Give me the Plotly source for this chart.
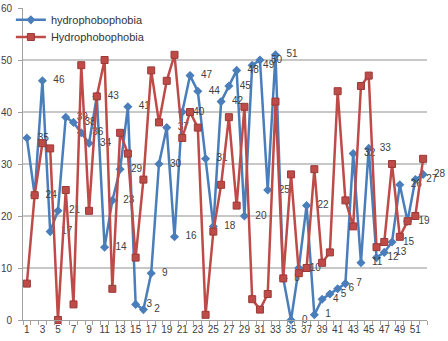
import plotly.graph_objects as go

categories = list(range(1, 53))
blue_values = [35, 24, 46, 17, 21, 39, 38, 36, 34, 43, 14, 23, 29, 41, 3, 2, 9, 30, 37, 16,
               40, 47, 44, 31, 18, 42, 45, 48, 20, 49, 50, 25, 51, 8, 0, 10, 22, 1, 4, 5,
               6, 7, 32, 11, 33, 12, 13, 15, 26, 19, 27, 28]
red_values = [7, 24, 34, 33, 0, 25, 3, 49, 21, 43, 50, 6, 36, 32, 12, 27, 48, 38, 46, 51,
              35, 40, 37, 1, 17, 26, 39, 22, 41, 4, 2, 5, 42, 8, 28, 9, 10, 29, 11, 13,
              44, 23, 18, 45, 47, 14, 15, 30, 16, 19, 20, 31]
x_tick_labels = [str(v) for v in range(1, 52, 2)]
y_tick_vals = [0, 10, 20, 30, 40, 50, 60]

BLUE = "#4A7EBB"
RED = "#BE4B48"
FONT = "Liberation Sans"

fig = go.Figure()
fig.add_trace(go.Scatter(
    x=categories, y=blue_values, name="hydrophobophobia",
    mode="lines+markers+text",
    text=["\u00a0\u00a0" + str(v) for v in blue_values], textposition="middle right",
    textfont=dict(family=FONT, size=10, color="#404040"),
    line=dict(color=BLUE, width=2.5),
    marker=dict(symbol="diamond", size=7, color=BLUE),
    cliponaxis=False, legend="legend",
))
fig.add_trace(go.Scatter(
    x=categories, y=red_values, name="Hydrophobophobia",
    mode="lines+markers",
    line=dict(color=RED, width=2.5),
    marker=dict(symbol="square", size=7, color=RED, line=dict(color="#9A3A37", width=1)),
    cliponaxis=False, legend="legend2",
))

leg_common = dict(xanchor="left", yanchor="middle",
                  bgcolor="rgba(255,255,255,0)", font=dict(size=11, color="#333333"),
                  itemwidth=30)
fig.update_layout(
    width=448, height=341,
    margin=dict(l=23, r=21, t=8, b=21, autoexpand=False),
    paper_bgcolor="white", plot_bgcolor="white",
    font=dict(family=FONT, size=10, color="#404040"),
    showlegend=True,
    legend=dict(x=-0.03, y=0.962, **leg_common),
    legend2=dict(x=-0.03, y=0.907, **leg_common),
)
fig.update_xaxes(
    range=[0.5, 52.5], automargin=False,
    tickmode="array", tickvals=list(range(1, 52, 2)), ticktext=x_tick_labels,
    ticks="", showgrid=False, zeroline=False,
    showline=True, linecolor="#A0A0A0", linewidth=1,
    minor=dict(tickmode="linear", tick0=0.5, dtick=1, ticks="outside",
               ticklen=4, tickcolor="#A0A0A0", showgrid=False),
    tickfont=dict(size=10, color="#404040"),
)
fig.update_yaxes(
    range=[0, 60], automargin=False, tickmode="array", tickvals=y_tick_vals,
    ticks="outside", ticklen=4, tickcolor="#A0A0A0", ticklabelstandoff=4,
    showgrid=True, gridcolor="#C8C8C8", gridwidth=1.5, zeroline=False,
    showline=True, linecolor="#A0A0A0", linewidth=1,
    tickfont=dict(size=10, color="#404040"),
)

fig.write_html("out.html", config={"displayModeBar": False},
               post_script="document.body.style.margin='0';document.body.style.overflow='hidden';")
